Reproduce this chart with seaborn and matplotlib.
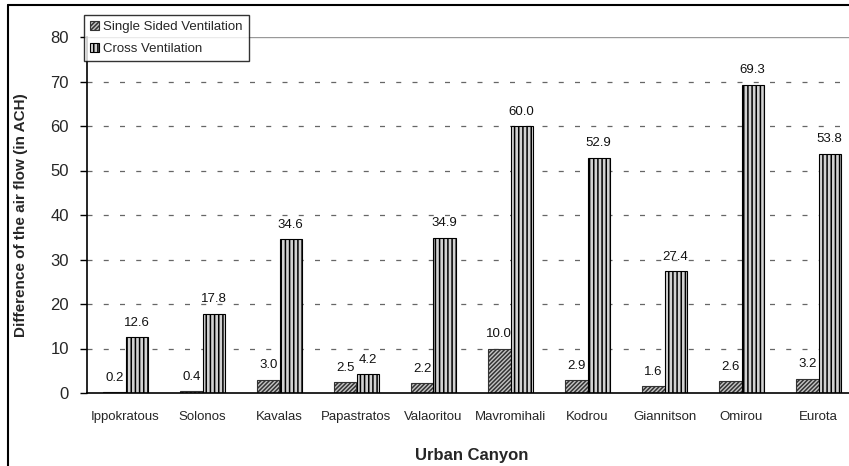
import matplotlib
matplotlib.use("Agg")
import matplotlib.pyplot as plt
import seaborn as sns
import pandas as pd
from matplotlib.lines import Line2D

categories = ["Ippokratous", "Solonos", "Kavalas", "Papastratos", "Valaoritou",
              "Mavromihali", "Kodrou", "Giannitson", "Omirou", "Eurota"]
single_sided = [0.2, 0.4, 3.0, 2.5, 2.2, 10.0, 2.9, 1.6, 2.6, 3.2]
cross_vent = [12.6, 17.8, 34.6, 4.2, 34.9, 60.0, 52.9, 27.4, 69.3, 53.8]
series_names = ["Single Sided Ventilation", "Cross Ventilation"]
y_ticks = [0, 10, 20, 30, 40, 50, 60, 70, 80]

df = pd.DataFrame({
    "canyon": categories * 2,
    "value": single_sided + cross_vent,
    "series": [series_names[0]] * len(categories) + [series_names[1]] * len(categories),
})

sns.set_theme(style="white")
plt.rcParams["font.family"] = ["Liberation Sans", "DejaVu Sans"]
plt.rcParams["hatch.linewidth"] = 1.1

fig = plt.figure(figsize=(8.49, 4.66), dpi=100)
ax = fig.add_axes([87 / 849, 1 - 393 / 466, 770 / 849, 356 / 466])

sns.barplot(data=df, x="canyon", y="value", hue="series", order=categories,
            hue_order=series_names, ax=ax, width=0.58, legend=True,
            palette=["#c0c0c0", "#ffffff"], edgecolor="black", linewidth=0.8,
            saturation=1)

styles = [("#c4c4c4", "////////", "#333333"), ("#d2d2d2", "||||", "black")]
for cont, (fc, hatch, ec) in zip(ax.containers, styles):
    for bar in cont:
        bar.set_facecolor(fc)
        bar.set_hatch(hatch)
        bar.set_edgecolor(ec)
    ax.bar_label(cont, fmt="%.1f", padding=6, fontsize=9.5, color="#111111")

ax.set_ylim(0, 80)
ax.set_xlim(-0.5, 9.5)
ax.set_yticks(y_ticks)
ax.set_yticklabels([str(v) for v in y_ticks], fontsize=12)
for v in y_ticks[1:-1]:
    ax.axhline(v, color="#666666", linestyle=(0, (4, 9)), linewidth=0.9, zorder=0)
ax.axhline(80, color="#999999", linewidth=1.0, zorder=0)

ax.set_xticks(range(len(categories)))
ax.set_xticklabels(categories, fontsize=9.5)
ax.tick_params(axis="x", which="major", length=0, pad=13)
ax.set_xticks([i - 0.5 for i in range(len(categories) + 1)], minor=True)
ax.tick_params(axis="x", which="minor", direction="inout", length=10, width=1, color="black")
ax.tick_params(axis="y", which="major", direction="out", length=5, width=1, color="black", left=True, pad=8)

for s in ["top", "right"]:
    ax.spines[s].set_visible(False)
for s in ["left", "bottom"]:
    ax.spines[s].set_color("black")
    ax.spines[s].set_linewidth(1.2)

ax.set_xlabel("Urban Canyon", fontsize=12, fontweight="bold", labelpad=18)
ax.set_ylabel("Difference of the air flow (in ACH)", fontsize=11, fontweight="bold", labelpad=16)

handles, labels = ax.get_legend_handles_labels()
ax.legend(handles, labels, loc="upper left", bbox_to_anchor=(84 / 849, 1 - 15 / 466),
          bbox_transform=fig.transFigure, frameon=True, fancybox=False,
          edgecolor="black", fontsize=9.5, handlelength=0.7, handleheight=0.7,
          handletextpad=0.3, borderpad=0.45, labelspacing=0.75, borderaxespad=0)
leg = ax.get_legend()
leg.get_frame().set_linewidth(1.0)
for h, (fc, hatch, ec) in zip(leg.legend_handles, styles):
    h.set_facecolor(fc)
    h.set_hatch(hatch)
    h.set_edgecolor(ec)

fig.add_artist(Line2D([8 / 849, 8 / 849], [0, 1 - 5 / 466], color="black", linewidth=1.5,
                      transform=fig.transFigure))
fig.add_artist(Line2D([8 / 849, 1], [1 - 5 / 466, 1 - 5 / 466], color="black", linewidth=1.5,
                      transform=fig.transFigure))

fig.savefig("out.png", dpi=100)
